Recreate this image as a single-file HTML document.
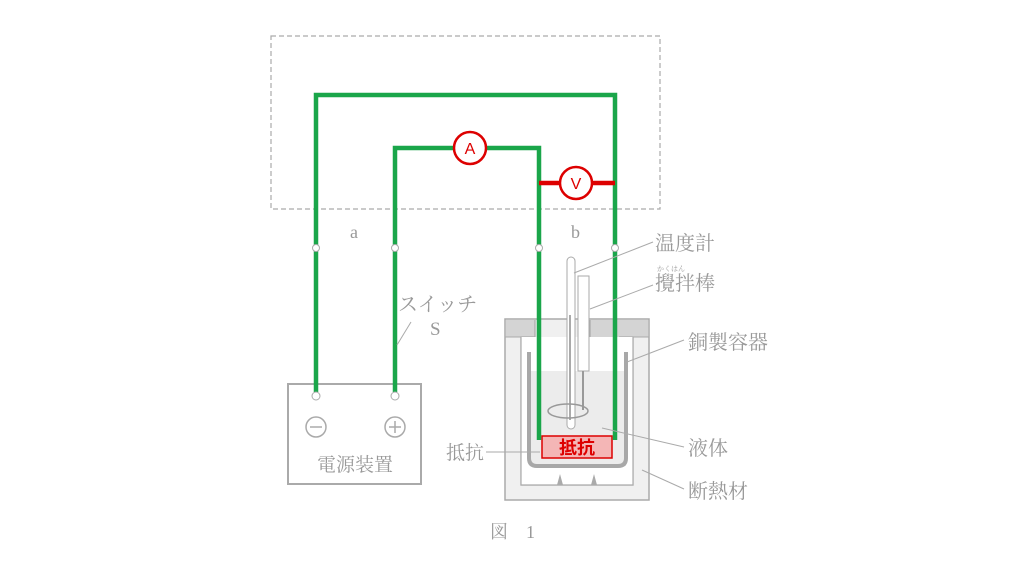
<!DOCTYPE html>
<html><head><meta charset="utf-8"><style>
html,body{margin:0;padding:0;background:#fff;}
svg{display:block}
text{font-family:"Liberation Serif","Noto Serif CJK SC","Noto Serif CJK JP",serif;fill:#999;}
</style></head><body>
<svg width="1024" height="576" viewBox="0 0 1024 576" xmlns="http://www.w3.org/2000/svg">
<rect x="271" y="36" width="389" height="173" fill="none" stroke="#aaa" stroke-width="1.2" stroke-dasharray="5,3"/>
<rect x="505" y="319" width="144" height="181" fill="#f0f0f0" stroke="#aaa" stroke-width="1.5"/>
<rect x="506" y="320" width="29" height="17" fill="#d4d4d4"/>
<rect x="590" y="320" width="58" height="17" fill="#d4d4d4"/>
<path d="M535 320 V337 H521 V485 H633 V337 H619 M590 337 V320" fill="none" stroke="#aaa" stroke-width="1.2"/>
<rect x="521" y="337" width="112" height="148" fill="#fff"/>
<path d="M521 337 V485 H633 V337" fill="none" stroke="#aaa" stroke-width="1.2"/>
<line x1="505" y1="337" x2="521" y2="337" stroke="#aaa"/>
<line x1="633" y1="337" x2="649" y2="337" stroke="#aaa"/>
<rect x="530" y="371" width="96" height="95" fill="#ececec"/>
<path d="M529 352 V458 Q529 466 537 466 H618 Q626 466 626 458 V352" fill="none" stroke="#a8a8a8" stroke-width="4"/>
<polygon points="560,474 557,485 563,485" fill="#aaa"/>
<polygon points="594,474 591,485 597,485" fill="#aaa"/>
<rect x="567" y="257" width="8" height="172" rx="4" fill="#fff" stroke="#aaa"/>
<line x1="570" y1="315" x2="570" y2="420" stroke="#aaa" stroke-width="2"/>
<rect x="578" y="276" width="11" height="95" fill="#fff" stroke="#aaa"/>
<line x1="583" y1="371" x2="583" y2="410" stroke="#999" stroke-width="2"/>
<ellipse cx="568" cy="411" rx="20" ry="7" fill="none" stroke="#999" stroke-width="1.5"/>
<rect x="542" y="436" width="70" height="22" fill="#f4b6b6" stroke="#d00" stroke-width="1.5"/>
<text x="577" y="454" text-anchor="middle" font-size="18" font-weight="bold" style="fill:#d00;font-family:'Noto Sans CJK JP',sans-serif">抵抗</text>
<rect x="288" y="384" width="133" height="100" fill="#fff" stroke="#aaa" stroke-width="2"/>
<circle cx="316" cy="427" r="10" fill="none" stroke="#aaa" stroke-width="1.5"/>
<line x1="310" y1="427" x2="322" y2="427" stroke="#aaa" stroke-width="1.5"/>
<circle cx="395" cy="427" r="10" fill="none" stroke="#aaa" stroke-width="1.5"/>
<path d="M389 427 H401 M395 421 V433" stroke="#aaa" stroke-width="1.5"/>
<text x="355" y="471" text-anchor="middle" font-size="19">電源装置</text>
<path d="M316 392 V95 H615 V440" fill="none" stroke="#1aa64a" stroke-width="4.5"/>
<path d="M395 392 V148 H539 V440" fill="none" stroke="#1aa64a" stroke-width="4.5"/>
<line x1="539" y1="183" x2="615" y2="183" stroke="#d00" stroke-width="4.5"/>
<circle cx="470" cy="148" r="16" fill="#fff" stroke="#d00" stroke-width="2.5"/>
<text x="470" y="154" text-anchor="middle" font-size="16" style="fill:#d00;font-family:'Liberation Sans',sans-serif">A</text>
<circle cx="576" cy="183" r="16" fill="#fff" stroke="#d00" stroke-width="2.5"/>
<text x="576" y="189" text-anchor="middle" font-size="16" style="fill:#d00;font-family:'Liberation Sans',sans-serif">V</text>
<g fill="#fff" stroke="#aaa" stroke-width="1"><circle cx="316" cy="248" r="3.5"/><circle cx="395" cy="248" r="3.5"/><circle cx="539" cy="248" r="3.5"/><circle cx="615" cy="248" r="3.5"/><circle cx="316" cy="396" r="4"/><circle cx="395" cy="396" r="4"/></g>
<text x="350" y="238" font-size="18">a</text>
<text x="571" y="238" font-size="18">b</text>
<text x="398" y="311" font-size="20">スイッチ</text>
<text x="430" y="335" font-size="19">S</text>
<line x1="411" y1="322" x2="397" y2="345" stroke="#aaa"/>
<text x="655" y="250" font-size="20">温度計</text>
<text x="657" y="271" font-size="7">かくはん</text>
<text x="655" y="290" font-size="20">攪拌棒</text>
<text x="688" y="349" font-size="20">銅製容器</text>
<text x="688" y="455" font-size="20">液体</text>
<text x="688" y="498" font-size="20">断熱材</text>
<text x="446" y="459" font-size="19">抵抗</text>
<g stroke="#aaa" stroke-width="1" fill="none">
<line x1="574" y1="273" x2="653" y2="242"/>
<line x1="590" y1="309" x2="653" y2="285"/>
<line x1="627" y1="362" x2="684" y2="340"/>
<line x1="602" y1="428" x2="684" y2="447"/>
<line x1="642" y1="470" x2="684" y2="489"/>
<line x1="486" y1="452" x2="540" y2="452"/>
</g>
<text x="490" y="538" font-size="18">図　1</text>
</svg>
</body></html>
